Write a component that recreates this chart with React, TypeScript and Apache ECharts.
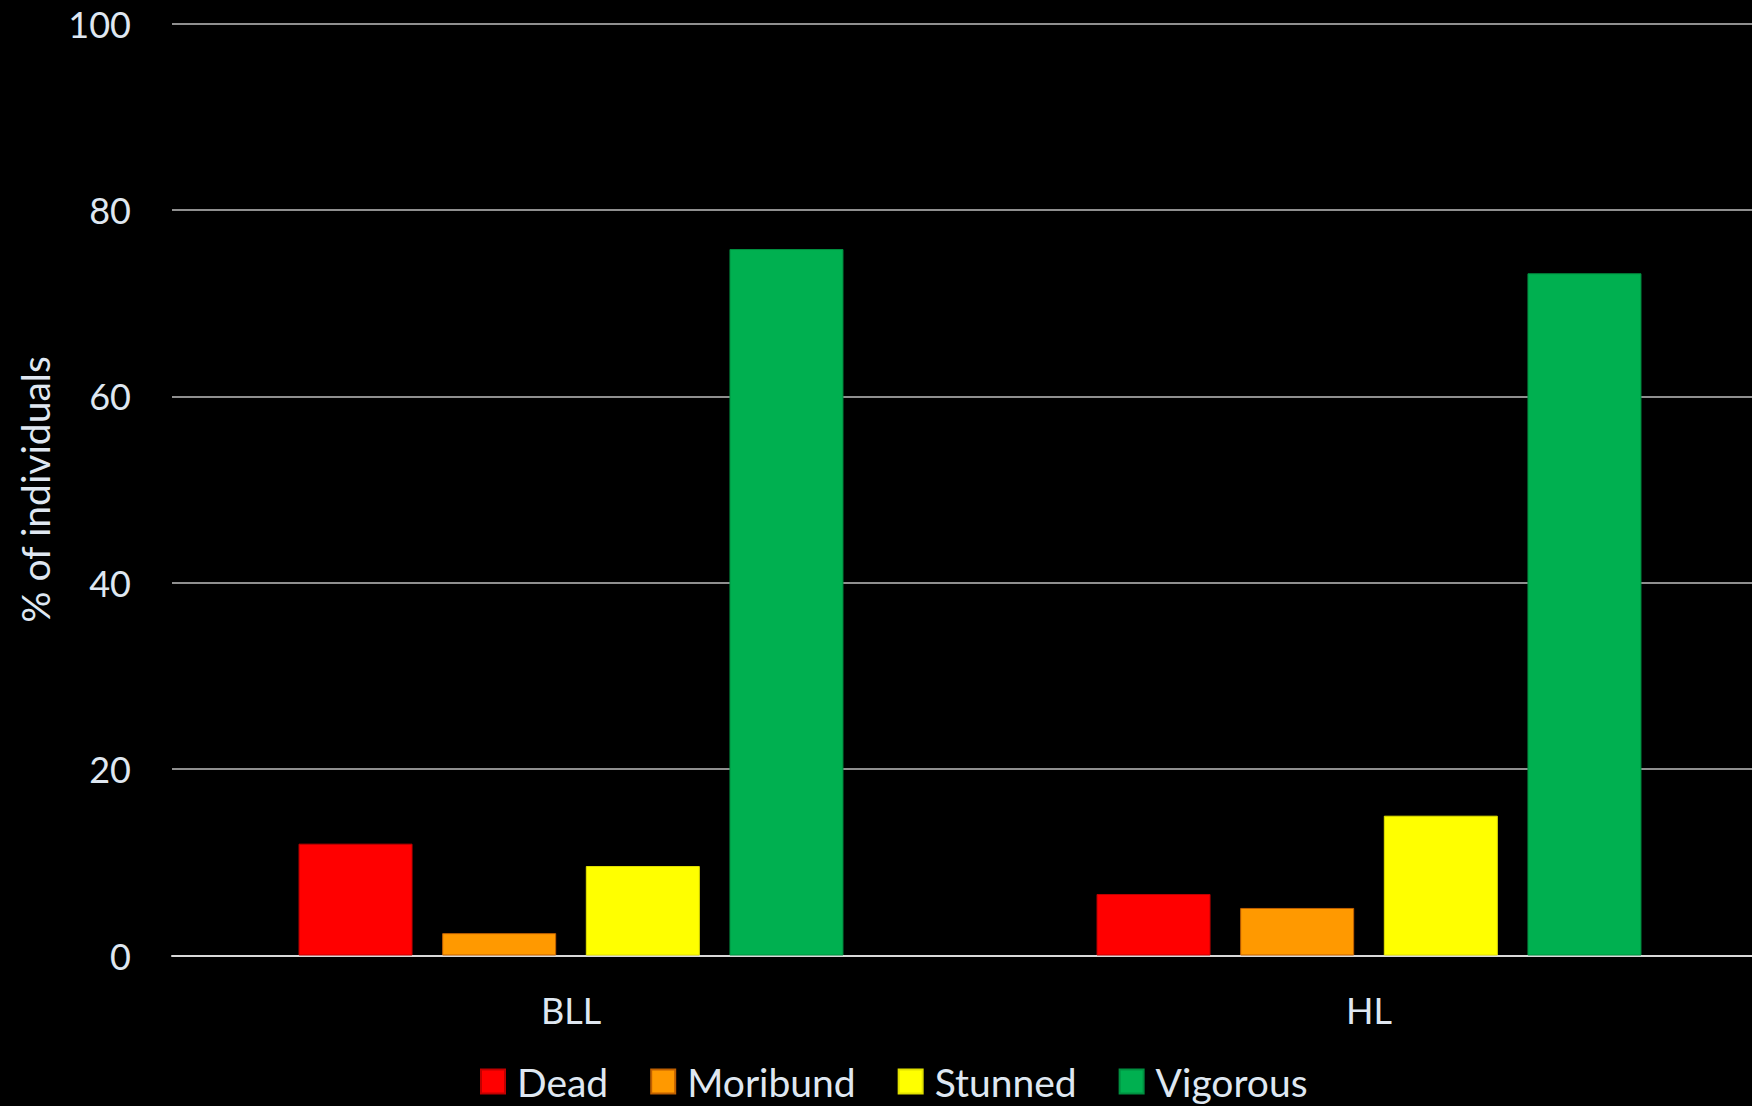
import React, { useEffect, useRef } from "react";
import * as echarts from "echarts";

const categories = ["BLL", "HL"];
const seriesNames = ["Dead", "Moribund", "Stunned", "Vigorous"];
const dead = [12.0, 6.6];
const moribund = [2.4, 5.1];
const stunned = [9.6, 15.0];
const vigorous = [75.8, 73.2];
const colors = ["#FF0000", "#FF9900", "#FFFF00", "#00B050"];
const borders = ["#C00000", "#C06000", "#E0E000", "#009040"];
const yTicks = { min: 0, max: 100, interval: 20 };

const TEXT = "#dfe7f1";
const FONT = "Lato";

export default function App() {
  const ref = useRef<HTMLDivElement>(null);
  useEffect(() => {
    if (!ref.current) return;
    const chart = echarts.init(ref.current, null, { renderer: "svg" });
    const values = [dead, moribund, stunned, vigorous];
    chart.setOption({
      animation: false,
      backgroundColor: "#000000",
      textStyle: { fontFamily: FONT, color: TEXT },
      grid: {
        left: 172,
        width: 1596,
        top: 23.5,
        bottom: 1106 - 955.5,
        containLabel: false,
        outerBoundsMode: "none",
      },
      legend: {
        left: 480,
        top: 1062,
        padding: 0,
        itemWidth: 24,
        itemHeight: 24,
        itemGap: 42,
        icon: "rect",
        textStyle: { color: TEXT, fontSize: 39, fontFamily: FONT, padding: [0, 0, 0, 7] },
        data: seriesNames,
      },
      xAxis: {
        type: "category",
        data: categories,
        axisTick: { show: false },
        axisLine: { show: true, lineStyle: { color: "#d9d9d9", width: 2 } },
        axisLabel: { color: TEXT, fontSize: 36, fontFamily: FONT, margin: 36 },
      },
      yAxis: {
        type: "value",
        min: yTicks.min,
        max: yTicks.max,
        interval: yTicks.interval,
        name: "% of individuals",
        nameLocation: "middle",
        nameGap: 118,
        nameTextStyle: { color: TEXT, fontSize: 39, fontFamily: FONT },
        axisLine: { show: false },
        axisTick: { show: false },
        axisLabel: { color: TEXT, fontSize: 36, fontFamily: FONT, margin: 41 },
        splitLine: { show: true, lineStyle: { color: "#bfbfbf", width: 1.5 } },
      },
      series: seriesNames.map((name, i) => ({
        name,
        type: "bar",
        data: values[i],
        barWidth: 114,
        barGap: "26%",
        itemStyle: { color: colors[i], borderColor: borders[i], borderWidth: 1 },
      })),
    });
    return () => chart.dispose();
  }, []);
  return (
    <div
      ref={ref}
      style={{ position: "fixed", left: 0, top: 0, width: 1752, height: 1106, background: "#000", overflow: "hidden" }}
    />
  );
}
